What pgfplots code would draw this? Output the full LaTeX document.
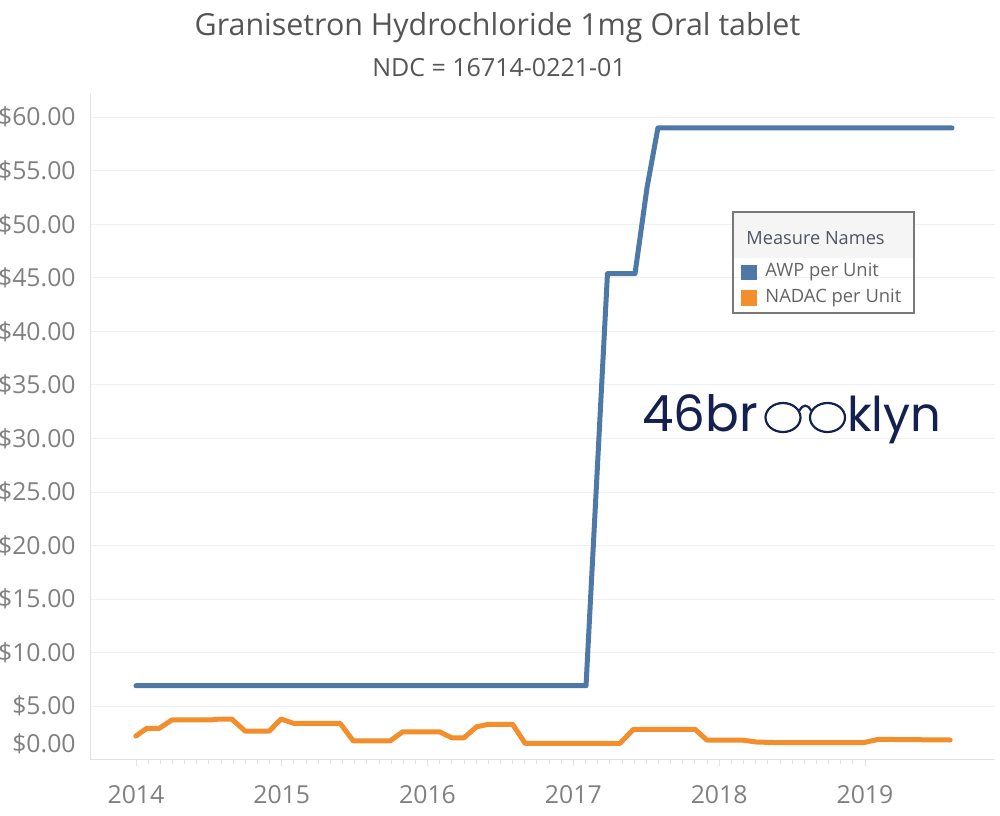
\documentclass[border=0pt]{standalone}
\usepackage{pgfplots}
\pgfplotsset{compat=1.18}
\usepackage{fontspec}
\setmainfont{Open Sans}
\newfontfamily\logofont{Poppins}

\definecolor{awp}{RGB}{78,121,167}
\definecolor{nadac}{RGB}{242,142,43}
\definecolor{tickgray}{RGB}{128,128,128}
\definecolor{titlegray}{RGB}{85,85,85}
\definecolor{gridgray}{RGB}{240,240,240}
\definecolor{axisgray}{RGB}{226,226,226}
\definecolor{navy}{RGB}{20,33,80}

\begin{document}
\begin{tikzpicture}
\path[use as bounding box] (0,0) rectangle (500pt,-407.5pt);

\begin{axis}[
  at={(45pt,-379.9pt)}, anchor=south west,
  scale only axis,
  width=452.5pt, height=332.8pt,
  xmin=2013.685, xmax=2019.892,
  ymin=0, ymax=62.15,
  axis x line*=bottom, axis y line*=left,
  axis line style={draw=axisgray, line width=0.5pt},
  xtick={2014,2015,2016,2017,2018,2019},
  xticklabels={2014,2015,2016,2017,2018,2019},
  minor x tick num=11,
  tick align=outside,
  major tick length=3pt, minor tick length=2pt,
  x tick style={draw=axisgray, line width=0.4pt},
  y tick style={draw=none},
  ytick={5,10,15,20,25,30,35,40,45,50,55,60},
  yticklabels={\$5.00,\$10.00,\$15.00,\$20.00,\$25.00,\$30.00,\$35.00,\$40.00,\$45.00,\$50.00,\$55.00,\$60.00},
  extra y ticks={0},
  extra y tick labels={\$0.00},
  extra y tick style={grid=none, yticklabel style={yshift=8pt}},
  ymajorgrids,
  grid style={draw=gridgray, line width=0.5pt},
  tick label style={font=\fontsize{12.4}{14}\selectfont, text=tickgray},
  yticklabel style={anchor=east, inner sep=0pt, xshift=-4pt},
  xticklabel style={anchor=north, inner sep=0pt, yshift=-9.5pt},
]
% NADAC per Unit
\addplot[nadac, line width=2.5pt, line join=round, line cap=round] coordinates {
(2014.000,2.22) (2014.074,2.94) (2014.160,2.94) (2014.246,3.72) (2014.508,3.72)
(2014.577,3.81) (2014.657,3.81) (2014.748,2.69) (2014.915,2.69) (2014.995,3.81)
(2015.080,3.41) (2015.400,3.41) (2015.491,1.76) (2015.743,1.76) (2015.830,2.62)
(2016.081,2.62) (2016.166,2.06) (2016.250,2.06) (2016.337,3.09) (2016.417,3.31)
(2016.584,3.31) (2016.669,1.54) (2017.320,1.54) (2017.412,2.85) (2017.835,2.85)
(2017.915,1.85) (2018.155,1.85) (2018.258,1.66) (2018.418,1.60) (2018.989,1.60)
(2019.092,1.91) (2019.584,1.85)
};
% AWP per Unit
\addplot[awp, line width=2.5pt, line join=round, line cap=round] coordinates {
(2014.000,6.92) (2017.087,6.92) (2017.234,45.4) (2017.423,45.4)
(2017.505,53.4) (2017.580,59.0) (2019.597,59.0)
};
\end{axis}

\begin{scope}[x=0.5pt, y=-0.5pt]
% titles
\node[font=\fontsize{15.2}{17}\selectfont, text=titlegray] at (497.5,28) {Granisetron Hydrochloride 1mg Oral tablet};
\node[font=\fontsize{12.5}{14}\selectfont, text=titlegray] at (499,68) {NDC = 16714-0221-01};
% legend
\fill[gridgray!70] (733,212) rectangle (914,258);
\draw[draw={rgb,255:red,120;green,120;blue,120}, line width=0.8pt] (733,212) rectangle (914,313);
\node[anchor=west, inner sep=0pt, font=\fontsize{9.1}{11}\selectfont, text={rgb,255:red,80;green,85;blue,100}] at (746,238) {Measure Names};
\fill[awp] (741,264.5) rectangle (757,280);
\fill[nadac] (741,290) rectangle (757,305.5);
\node[anchor=west, inner sep=0pt, font=\fontsize{9.2}{10}\selectfont, text={rgb,255:red,100;green,100;blue,100}] at (765,272) {AWP per Unit};
\node[anchor=west, inner sep=0pt, font=\fontsize{9.2}{10}\selectfont, text={rgb,255:red,100;green,100;blue,100}] at (765,297.5) {NADAC per Unit};
% logo
\node[anchor=base west, inner sep=0pt, font=\logofont\fontsize{25}{28}\selectfont, text=navy] at (641.7,431.7) {46br};
\node[anchor=base east, inner sep=0pt, font=\logofont\fontsize{24}{28}\selectfont, text=navy] at (941.7,431.7) {klyn};
\draw[navy, line width=1.1pt] (783,417.5) ellipse [x radius=17.5, y radius=14.5];
\draw[navy, line width=1.1pt] (827.5,417.5) ellipse [x radius=17.5, y radius=14.5];
\draw[navy, line width=1.1pt] (799.5,410.5) .. controls (803,404) and (807.5,404) .. (811,410.5);
\end{scope}
\end{tikzpicture}
\end{document}
